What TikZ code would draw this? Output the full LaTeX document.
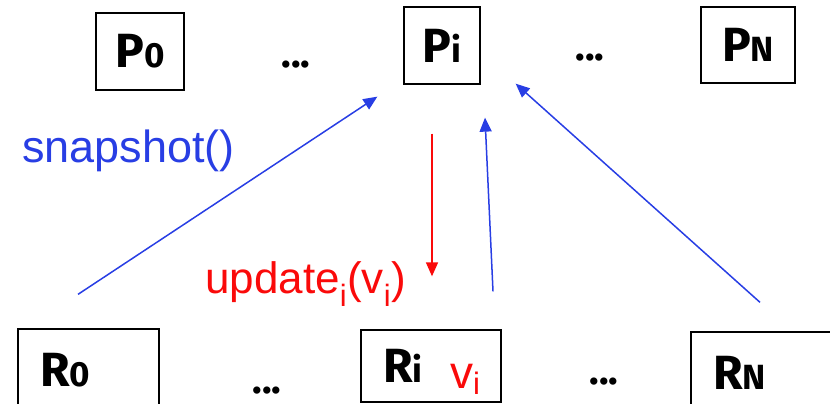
\documentclass[tikz,border=0pt]{standalone}
\usepackage{fontspec}
\setmainfont{Liberation Sans}
\newfontfamily\boxfont{Fira Sans}
\usetikzlibrary{arrows.meta, positioning, calc}

\definecolor{snapblue}{RGB}{40,62,228}
\definecolor{updred}{RGB}{250,10,10}

\newcommand{\idx}[1]{{\fontsize{35}{35}\selectfont #1}}
\newcommand{\lowidx}[1]{\raisebox{-6pt}{\fontsize{31}{31}\selectfont #1}}

\begin{document}
\begin{tikzpicture}[x=1pt, y=-1pt,
    pbox/.style={draw, line width=1.3pt, inner sep=0pt, font=\boxfont\bfseries\fontsize{48}{48}\selectfont},
    rbox/.style={pbox, minimum height=82pt, inner xsep=22pt, align=left},
    dots/.style={font=\boxfont\bfseries\fontsize{40}{40}\selectfont},
    msg/.style={line width=1.5pt, -{Triangle[length=14pt,width=12pt]}}]
    \useasboundingbox (0,0) rectangle (830,404);
    \clip (0,0) rectangle (830,404);

    % Top row: processes
    \node[pbox, minimum width=88pt, minimum height=77pt] (P0) at (140,51.5) {P\idx{0}};
    \node[dots] (d1) at (296,65) {...};
    \node[pbox, minimum width=76pt, minimum height=77pt] (Pi) at (442,45.5) {P\idx{i}};
    \node[dots] (d2) at (590,58) {...};
    \node[pbox, minimum width=94pt, minimum height=76pt] (PN) at (748,45) {P\idx{N}};

    % Bottom row: registers
    \node[rbox, text width=97pt] (R0) at (88.5,370) {R\idx{0}};
    \node[dots] (d3) at (267,391) {...};
    \node[rbox, text width=96pt, minimum height=72pt] (Ri) at (431,366) {R\idx{i}};
    \node[text=updred, font=\fontsize{46}{46}\selectfont, anchor=base west, inner sep=0pt] (vi) at (450,388) {v\lowidx{i}};
    \node[dots] (d4) at (604,382) {...};
    \node[rbox, text width=136pt] (RN) at (781,373) {R\idx{N}};

    % Labels
    \node[text=snapblue, font=\fontsize{45}{45}\selectfont, anchor=base west, inner sep=0pt] (snap) at (22,162) {snapshot()};
    \node[text=updred, font=\fontsize{44}{44}\selectfont, anchor=base west, inner sep=0pt] (upd) at (205,293) {update\textsubscript{i}(v\textsubscript{i})};

    % Arrows
    \draw[msg, snapblue] ($(R0.north)+(-10.5,-34)$) -- ($(Pi.south west)+(-26,12)$);
    \draw[msg, updred] ($(Pi.south)+(-10,49)$) -- ($(Ri.north)+(1,-53)$);
    \draw[msg, snapblue] ($(Ri.north)+(62,-38)$) -- ($(Pi.south)+(43,33)$);
    \draw[msg, snapblue] ($(RN.north)+(-21,-29)$) -- ($(Pi.south east)+(35,-1)$);
\end{tikzpicture}
\end{document}
